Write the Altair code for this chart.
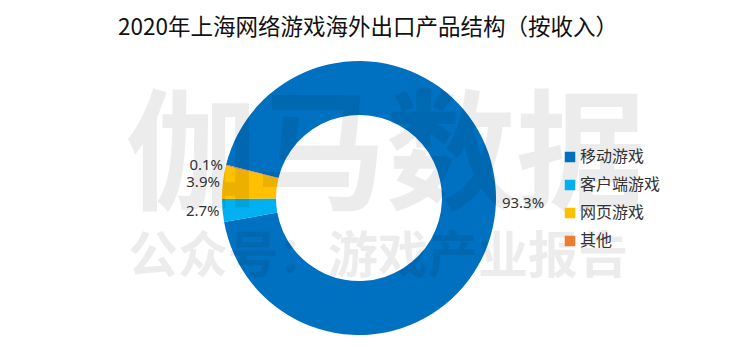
import math
import altair as alt
import pandas as pd

# ---- data ----
categories = ["移动游戏", "客户端游戏", "网页游戏", "其他"]
shares = [93.3, 2.7, 3.9, 0.1]
labels = ["93.3%", "2.7%", "3.9%", "0.1%"]
colors = ["#0070C0", "#00B0F0", "#FFC000", "#ED7D31"]
title_text = "2020年上海网络游戏海外出口产品结构（按收入）"
watermark_big = ["伽马数据"]
watermark_small = ["公众号：游戏产业报告"]

df = pd.DataFrame({"cat": categories, "v": shares, "label": labels, "idx": list(range(len(categories)))})

START = math.radians(284)
theta_scale = alt.Scale(range=[START, START + 2 * math.pi])
CX, CY = 351, 142
CJK = "Noto Sans CJK SC"

base = alt.Chart(df).encode(
    theta=alt.Theta("v:Q", stack=True, scale=theta_scale),
    order=alt.Order("idx:Q"),
)

arcs = base.mark_arc(outerRadius=137, innerRadius=83, strokeWidth=0).encode(
    color=alt.Color(
        "cat:N",
        scale=alt.Scale(domain=categories, range=colors),
        sort=categories,
        legend=alt.Legend(
            orient="none", legendX=554, legendY=93, title=None,
            symbolType="square", symbolSize=110, symbolStrokeWidth=0,
            labelFont=CJK, labelFontSize=16, labelColor="#333333",
            rowPadding=12, labelOffset=2,
        ),
    ),
    x=alt.value(CX), y=alt.value(CY),
)

lab = base.transform_window(
    cum="sum(v)", sort=[alt.SortField("idx")]
).transform_joinaggregate(
    total="sum(v)"
).transform_calculate(
    mid=f"{START} + 2*PI*(datum.cum - datum.v/2)/datum.total",
).transform_calculate(
    rtext="sin(datum.mid) > 0 ? datum.label : ''",
    ltext="sin(datum.mid) > 0 ? '' : datum.label",
)

right_lab = lab.mark_text(radius=143, align="left", baseline="middle",
                          font="Noto Sans", fontSize=15, color="#333333").encode(
    text="rtext:N", x=alt.value(CX), y=alt.value(CY))
left_lab = lab.mark_text(radius=140, align="right", baseline="middle",
                         font="Noto Sans", fontSize=15, color="#333333").encode(
    text="ltext:N", x=alt.value(CX), y=alt.value(CY))

wm1 = alt.Chart(pd.DataFrame({"t": watermark_big})).mark_text(
    font=CJK, fontSize=130, fontWeight="bold", color="#000000", opacity=0.07,
    align="center", baseline="middle",
).encode(text="t:N", x=alt.value(378), y=alt.value(104))
wm2 = alt.Chart(pd.DataFrame({"t": watermark_small})).mark_text(
    font=CJK, fontSize=50, fontWeight="bold", color="#000000", opacity=0.07,
    align="center", baseline="middle",
).encode(text="t:N", x=alt.value(370), y=alt.value(202))

chart = alt.layer(arcs, wm1, wm2, right_lab, left_lab).properties(
    width=734, height=294,
    autosize="none",
    padding={"top": 48, "left": 0, "right": 0, "bottom": 0},
    title=alt.TitleParams(title_text, font=CJK, fontSize=22.5, fontWeight="normal",
                          color="#111111", anchor="middle", frame="group", offset=17, dx=-7),
).configure_view(stroke=None)

chart.save("out.html", embed_options={"renderer": "svg", "actions": False})
